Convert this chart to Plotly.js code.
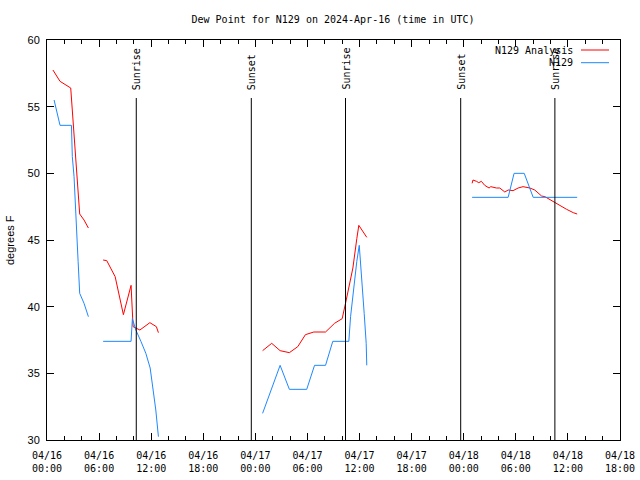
<!DOCTYPE html>
<html><head><meta charset="utf-8">
<script src="https://cdn.plot.ly/plotly-3.0.1.min.js"></script>
<style>html,body{margin:0;padding:0;background:#fff}#chart{width:640px;height:480px}</style>
</head><body><div id="chart"></div>
<script>
// N129 Analysis (red) — null breaks the line into segments
const analysisTimes = [
 '2024-04-16 00:41','2024-04-16 01:30','2024-04-16 02:44','2024-04-16 02:55','2024-04-16 03:07','2024-04-16 03:19','2024-04-16 03:35','2024-04-16 03:46','2024-04-16 04:16','2024-04-16 04:46',
 '2024-04-16 05:30',
 '2024-04-16 06:28','2024-04-16 06:53','2024-04-16 07:51','2024-04-16 08:48','2024-04-16 09:41','2024-04-16 09:46','2024-04-16 09:55','2024-04-16 10:42','2024-04-16 11:51','2024-04-16 12:36','2024-04-16 12:50',
 '2024-04-16 18:00',
 '2024-04-17 00:50','2024-04-17 01:53','2024-04-17 02:51','2024-04-17 03:55','2024-04-17 04:53','2024-04-17 05:46','2024-04-17 06:44','2024-04-17 08:05','2024-04-17 09:07','2024-04-17 10:00','2024-04-17 10:28','2024-04-17 10:51','2024-04-17 11:14','2024-04-17 11:41','2024-04-17 11:55','2024-04-17 12:50',
 '2024-04-17 18:00',
 '2024-04-18 00:58','2024-04-18 01:04','2024-04-18 01:28','2024-04-18 01:44','2024-04-18 02:02','2024-04-18 02:25','2024-04-18 02:55','2024-04-18 03:07','2024-04-18 03:46','2024-04-18 04:09','2024-04-18 04:44','2024-04-18 05:07','2024-04-18 05:41','2024-04-18 06:16','2024-04-18 06:50','2024-04-18 07:37','2024-04-18 08:11','2024-04-18 08:34','2024-04-18 08:58','2024-04-18 09:21','2024-04-18 09:44','2024-04-18 10:30','2024-04-18 11:05','2024-04-18 11:51','2024-04-18 12:37','2024-04-18 13:04'
];
const analysisValues = [
 57.75,56.9,56.4,54.6,53.4,51.0,48.6,46.95,46.5,45.9,
 null,
 43.5,43.45,42.25,39.4,41.6,40.0,38.5,38.25,38.8,38.5,38.05,
 null,
 36.7,37.25,36.7,36.55,37.0,37.9,38.1,38.1,38.75,39.1,40.5,41.6,42.9,45.1,46.1,45.2,
 null,
 49.25,49.5,49.4,49.3,49.4,49.1,48.9,49.0,48.9,48.9,48.6,48.75,48.7,48.9,49.0,48.9,48.75,48.5,48.3,48.25,48.1,47.8,47.6,47.3,47.05,46.95
];
// N129 (blue)
const obsTimes = [
 '2024-04-16 00:49','2024-04-16 01:30','2024-04-16 02:49','2024-04-16 02:55','2024-04-16 03:07','2024-04-16 03:19','2024-04-16 03:35','2024-04-16 03:46','2024-04-16 04:16','2024-04-16 04:46',
 '2024-04-16 05:30',
 '2024-04-16 06:28','2024-04-16 09:41','2024-04-16 09:50','2024-04-16 10:14','2024-04-16 10:49','2024-04-16 11:23','2024-04-16 11:53','2024-04-16 12:09','2024-04-16 12:32','2024-04-16 12:50',
 '2024-04-16 18:00',
 '2024-04-17 00:50','2024-04-17 02:51','2024-04-17 03:55','2024-04-17 05:55','2024-04-17 06:49','2024-04-17 08:05','2024-04-17 08:55','2024-04-17 10:46','2024-04-17 10:58','2024-04-17 11:20','2024-04-17 11:41','2024-04-17 11:58','2024-04-17 12:19','2024-04-17 12:32','2024-04-17 12:46','2024-04-17 12:50',
 '2024-04-17 18:00',
 '2024-04-18 00:58','2024-04-18 05:07','2024-04-18 05:48','2024-04-18 06:58','2024-04-18 08:00','2024-04-18 13:04'
];
const obsValues = [
 55.5,53.6,53.6,51.25,49.75,46.5,43.4,41.0,40.25,39.25,
 null,
 37.4,37.4,39.1,38.25,37.4,36.5,35.4,34.25,32.25,30.25,
 null,
 32.0,35.6,33.8,33.8,35.6,35.6,37.4,37.4,39.25,41.5,43.4,44.6,41.75,39.5,37.25,35.6,
 null,
 48.2,48.2,50.0,50.0,48.2,48.2
];
// Sun events
const sunTimes = ['2024-04-16 10:17','2024-04-16 23:32','2024-04-17 10:23','2024-04-17 23:39','2024-04-18 10:30'];
const sunLabels = ['Sunrise','Sunset','Sunrise','Sunset','Sunrise'];
const seriesNames = ['N129 Analysis','N129'];
const seriesColors = ['#ff0000','#1e88ff'];

const mono = 'DejaVu Sans Mono';
const traces = [
 {x: analysisTimes, y: analysisValues, mode:'lines', name: seriesNames[0], line:{color:seriesColors[0], width:1}, connectgaps:false},
 {x: obsTimes, y: obsValues, mode:'lines', name: seriesNames[1], line:{color:seriesColors[1], width:1}, connectgaps:false}
];
const shapes = [];
const annotations = [];
sunTimes.forEach((t,i)=>{
  shapes.push({type:'line', xref:'x', yref:'paper', x0:t, x1:t, y0:0, y1:0.855, line:{color:'#000', width:1}});
  annotations.push({x:t, xref:'x', yref:'paper', y:0.87, yanchor:'bottom', xanchor:'center', text:sunLabels[i], textangle:-90, showarrow:false, font:{family:mono, size:10, color:'#000'}});
});
// legend (text left, sample right, like the reference)
seriesNames.forEach((n,i)=>{
  const yp = 1 - (10 + i*12.7)/400;
  annotations.push({xref:'paper', yref:'paper', x:(575-47)/573, y:yp, xanchor:'right', yanchor:'middle', text:n, showarrow:false, font:{family:mono, size:10, color:'#000'}});
  shapes.push({type:'line', xref:'paper', yref:'paper', x0:(581-47)/573, x1:(609-47)/573, y0:yp, y1:yp, line:{color:seriesColors[i], width:1}});
});
annotations.push({xref:'paper', yref:'paper', x:-37/573, y:0.5, xanchor:'center', yanchor:'middle', text:'degrees F', textangle:-90, showarrow:false, font:{family:'Liberation Sans', size:11, color:'#000'}});

const layout = {
  width:640, height:480,
  margin:{l:47, r:20, t:40, b:40},
  paper_bgcolor:'#fff', plot_bgcolor:'#fff',
  showlegend:false,
  title:{text:'Dew Point for N129 on 2024-Apr-16 (time in UTC)', x:(333)/640, xanchor:'center', y:1-19/480, yanchor:'middle', font:{family:mono, size:10, color:'#000'}},
  xaxis:{type:'date', range:['2024-04-16 00:00','2024-04-18 18:00'], tickmode:'linear', tick0:'2024-04-16 00:00', dtick:6*3600*1000,
    tickformat:'%m/%d<br>%H:%M', ticks:'inside', ticklen:7, tickcolor:'#000', showline:true, linecolor:'#000', linewidth:1, mirror:'allticks',
    showgrid:false, zeroline:false, tickfont:{family:mono, size:10, color:'#000'}, ticklabelstandoff:6,
    minor:{dtick:2*3600*1000, tick0:'2024-04-16 00:00', ticks:'inside', ticklen:4, tickcolor:'#000', showgrid:false}},
  yaxis:{range:[30,60], dtick:5, ticks:'inside', ticklen:7, tickcolor:'#000', showline:true, linecolor:'#000', linewidth:1, mirror:'allticks',
    showgrid:false, zeroline:false, tickfont:{family:'Liberation Sans', size:11, color:'#000'}, ticklabelstandoff:4},
  shapes: shapes,
  annotations: annotations
};
Plotly.newPlot('chart', traces, layout, {staticPlot:true, displayModeBar:false});
</script></body></html>
